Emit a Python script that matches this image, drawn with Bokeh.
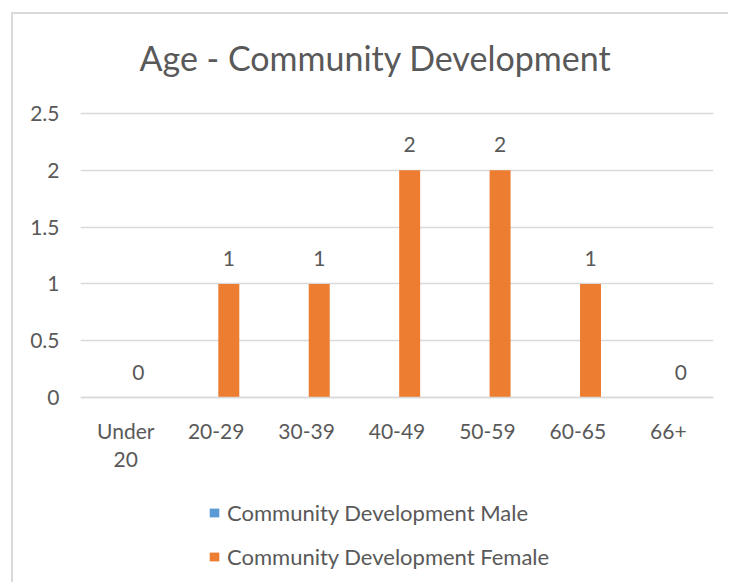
from bokeh.plotting import figure
from bokeh.models import ColumnDataSource, LabelSet, Legend, LegendItem, FactorRange
from bokeh.core.properties import value
from bokeh.transform import dodge
from bokeh.embed import file_html
from bokeh.resources import INLINE

categories = ["Under\n20", "20-29", "30-39", "40-49", "50-59", "60-65", "66+"]
male = [0, 0, 0, 0, 0, 0, 0]
female = [0, 1, 1, 2, 2, 1, 0]
y_ticks = [0, 0.5, 1, 1.5, 2, 2.5]
y_tick_labels = ["0", "0.5", "1", "1.5", "2", "2.5"]
series_names = ["Community Development Male", "Community Development Female"]
title_text = "Age - Community Development"

FONT = "Lato"
TXT = "#595959"
GRID = "#D9D9D9"

src = ColumnDataSource(dict(cat=categories, male=male, female=female,
                            flab=[str(v) for v in female]))

# frame spans from just above the 2.5 gridline down to the page bottom; the
# category axis sits at 0 and the area under it holds its labels and the legend
p = figure(x_range=FactorRange(*categories), y_range=(-1.646, 2.65),
           width=717, height=570, output_backend="svg", toolbar_location=None,
           title=title_text,
           min_border_left=67, min_border_right=17, min_border_top=82,
           min_border_bottom=0)
p.margin = (12, 0, 0, 11)
p.styles = {"border-top": "2px solid #D9D9D9", "border-left": "2px solid #D9D9D9"}
p.outline_line_color = None

p.title.text_font = FONT
p.title.text_font_size = "34px"
p.title.text_color = TXT
p.title.text_font_style = "normal"
p.title.align = "left"
p.title.offset = 59
p.title.standoff = 38

w = 0.232
off = 0.14
rm = p.vbar(x=dodge("cat", -off, range=p.x_range), top="male", width=w,
            source=src, fill_color="#5B9BD5", line_color=None)
rf = p.vbar(x=dodge("cat", off, range=p.x_range), top="female", width=w,
            source=src, fill_color="#ED7D31", line_color=None)

labels = LabelSet(x=dodge("cat", off, range=p.x_range), y="female", text="flab",
                  source=src, y_offset=18, text_align="center",
                  text_baseline="alphabetic",
                  text_font_size="21px", text_color=TXT, text_font=value(FONT))
p.add_layout(labels)

p.yaxis.ticker = y_ticks
p.yaxis.major_label_overrides = dict(zip(y_ticks, y_tick_labels))
p.yaxis.axis_line_color = None
p.yaxis.major_tick_line_color = None
p.yaxis.minor_tick_line_color = None
p.yaxis.major_tick_out = 0
p.yaxis.major_tick_in = 0
p.yaxis.major_label_standoff = 21
p.yaxis.major_label_text_font = FONT
p.yaxis.major_label_text_font_size = "21px"
p.yaxis.major_label_text_color = TXT

p.xaxis.fixed_location = 0
p.xaxis.axis_line_color = GRID
p.xaxis.axis_line_width = 1.5
p.xaxis.major_tick_line_color = None
p.xaxis.minor_tick_line_color = None
p.xaxis.major_tick_out = 0
p.xaxis.major_tick_in = 0
p.xaxis.major_label_standoff = 20
p.xaxis.major_label_text_font = FONT
p.xaxis.major_label_text_font_size = "21px"
p.xaxis.major_label_text_color = TXT
p.xaxis.major_label_text_line_height = 1.15

p.xgrid.grid_line_color = None
p.ygrid.grid_line_color = GRID
p.ygrid.grid_line_width = 1.5
p.x_range.range_padding = 0
p.x_range.group_padding = 0

legend = Legend(items=[LegendItem(label=series_names[0], renderers=[rm]),
                       LegendItem(label=series_names[1], renderers=[rf])],
                orientation="vertical", location=(128, 14),
                label_text_font=FONT, label_text_font_size="22px",
                label_text_color=TXT, glyph_width=12, glyph_height=11,
                spacing=17, border_line_color=None, padding=0, margin=0,
                background_fill_alpha=0, label_standoff=7)
p.add_layout(legend, "center")

open("out.html", "w").write(file_html(p, INLINE))
